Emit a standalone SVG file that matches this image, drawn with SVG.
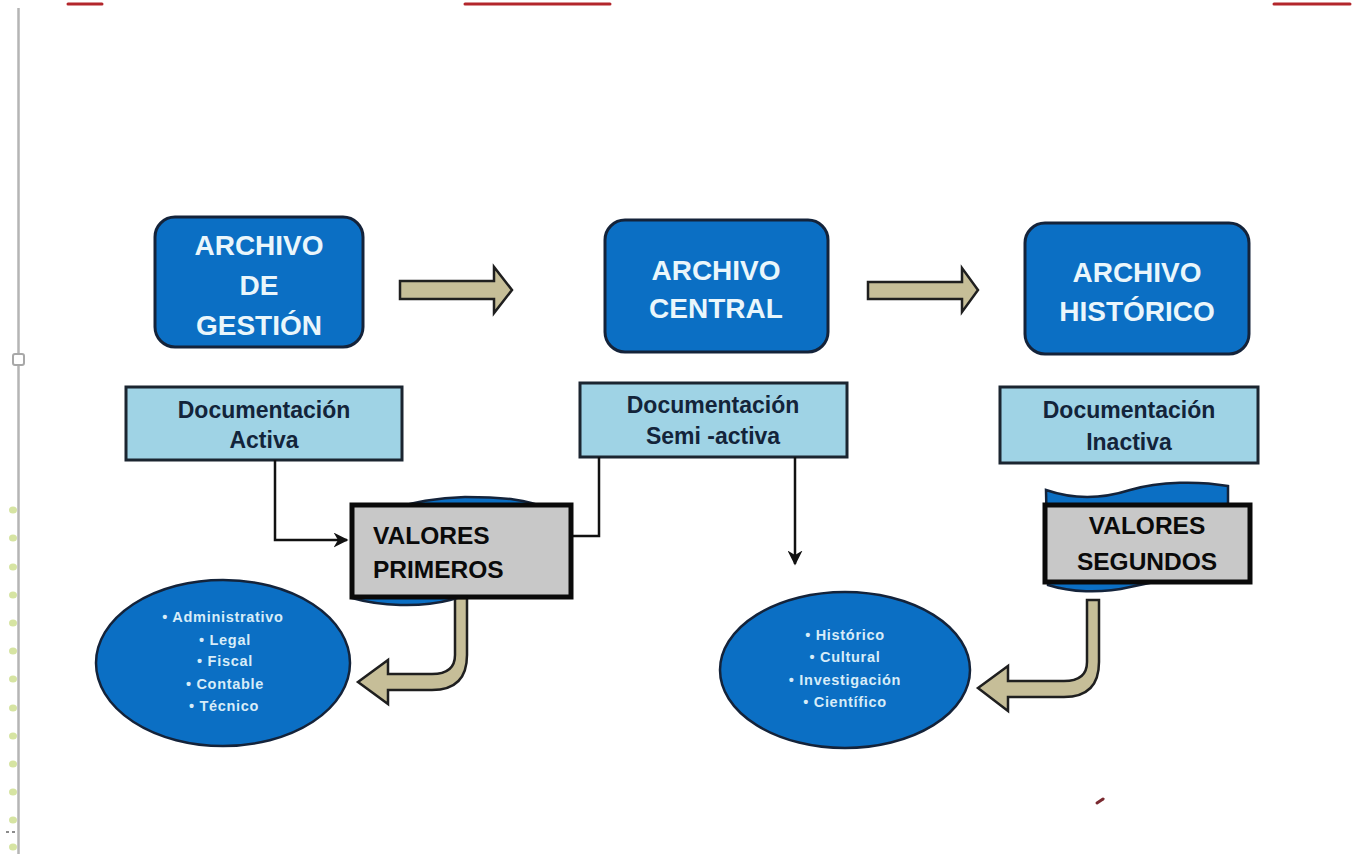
<svg xmlns="http://www.w3.org/2000/svg" width="1361" height="854" viewBox="0 0 1361 854">
<style>
.arch{fill:#0b6fc4;stroke:#14233a;stroke-width:3}
.archt{font-family:"Liberation Sans",Arial,sans-serif;font-weight:bold;font-size:28px;fill:#eaf6fb;text-anchor:middle}
.doc{fill:#9fd3e5;stroke:#1b2530;stroke-width:3}
.doct{font-family:"Liberation Sans",Arial,sans-serif;font-weight:bold;font-size:23px;fill:#13243a;text-anchor:middle}
.val{fill:#c8c8c8;stroke:#0a0a0a;stroke-width:5}
.valt{font-family:"Liberation Sans",Arial,sans-serif;font-weight:bold;font-size:24.5px;fill:#0a0a0a}
.tape{fill:#0b6fc4;stroke:#14233a;stroke-width:2.5}
.bigarrow{fill:#c6be98;stroke:#1f1f1f;stroke-width:2.5;stroke-linejoin:miter}
.ell{fill:#0b6fc4;stroke:#14233a;stroke-width:2.5}
.bt{font-family:"Liberation Sans",Arial,sans-serif;font-weight:bold;font-size:14.5px;fill:#d7ecf8;text-anchor:middle;letter-spacing:0.7px}
.conn{fill:none;stroke:#111;stroke-width:2.5}
</style>
<defs>
<marker id="ah" viewBox="0 0 10 10" refX="9" refY="5" markerWidth="6" markerHeight="6" orient="auto" markerUnits="strokeWidth">
<path d="M0,0 L10,5 L0,10 L3,5 Z" fill="#111"/>
</marker>
</defs>
<rect width="1361" height="854" fill="#ffffff"/>
<!-- page decorations -->
<g id="decor">
<line x1="18.5" y1="8" x2="18.5" y2="854" stroke="#b5b5b5" stroke-width="2.5"/>
<rect x="13" y="354" width="11" height="11" rx="2" fill="#fff" stroke="#a8a8a8" stroke-width="2"/>
<g fill="#d6e4a2">
<ellipse cx="13" cy="510" rx="4" ry="3.5"/><ellipse cx="13" cy="538" rx="4" ry="3.5"/><ellipse cx="13" cy="567" rx="4" ry="3.5"/><ellipse cx="13" cy="595" rx="4" ry="3.5"/><ellipse cx="13" cy="623" rx="4" ry="3.5"/><ellipse cx="13" cy="651" rx="4" ry="3.5"/><ellipse cx="13" cy="679" rx="4" ry="3.5"/><ellipse cx="13" cy="708" rx="4" ry="3.5"/><ellipse cx="13" cy="736" rx="4" ry="3.5"/><ellipse cx="13" cy="764" rx="4" ry="3.5"/><ellipse cx="13" cy="792" rx="4" ry="3.5"/><ellipse cx="13" cy="820" rx="4" ry="3.5"/><ellipse cx="13" cy="847" rx="4" ry="3.5"/>
</g>
<g stroke="#b3262b" stroke-width="3" stroke-linecap="round">
<line x1="68" y1="4" x2="102" y2="4"/>
<line x1="465" y1="4" x2="610" y2="4"/>
<line x1="1274" y1="4" x2="1350" y2="4"/>
</g>
<path d="M1097,803 L1103,799" stroke="#7a2a30" stroke-width="3" stroke-linecap="round"/>
<g stroke="#666" stroke-width="1.5"><line x1="6" y1="832" x2="9" y2="832"/><line x1="12" y1="832" x2="15" y2="832"/></g>
</g>
<!-- top row archive boxes -->
<g id="archivo-gestion">
<rect class="arch" x="155" y="217" width="208" height="130" rx="20"/>
<text class="archt" x="259" y="255">ARCHIVO</text>
<text class="archt" x="259" y="295">DE</text>
<text class="archt" x="259" y="335">GESTIÓN</text>
</g>
<g id="archivo-central">
<rect class="arch" x="605" y="220" width="223" height="132" rx="20"/>
<text class="archt" x="716" y="280">ARCHIVO</text>
<text class="archt" x="716" y="318">CENTRAL</text>
</g>
<g id="archivo-historico">
<rect class="arch" x="1025" y="223" width="224" height="131" rx="20"/>
<text class="archt" x="1137" y="282">ARCHIVO</text>
<text class="archt" x="1137" y="321">HISTÓRICO</text>
</g>
<!-- documentation boxes -->
<g id="doc-activa">
<rect class="doc" x="126" y="387" width="276" height="73"/>
<text class="doct" x="264" y="418">Documentación</text>
<text class="doct" x="264" y="448">Activa</text>
</g>
<g id="doc-semiactiva">
<rect class="doc" x="580" y="383" width="267" height="74"/>
<text class="doct" x="713" y="413">Documentación</text>
<text class="doct" x="713" y="444">Semi -activa</text>
</g>
<g id="doc-inactiva">
<rect class="doc" x="1000" y="387" width="258" height="76"/>
<text class="doct" x="1129" y="418">Documentación</text>
<text class="doct" x="1129" y="450">Inactiva</text>
</g>
<!-- connectors -->
<g id="connectors">
<polygon class="bigarrow" points="400,281 494,281 494,267 512,290 494,313 494,299 400,299"/>
<polygon class="bigarrow" points="868,282 962,282 962,268 978,290 962,312 962,299 868,299"/>
<path class="conn" d="M275,460 L275,540 L347,540" marker-end="url(#ah)"/>
<path class="conn" d="M599,457 L599,536 L573,536"/>
<path class="conn" d="M795,457 L795,564" marker-end="url(#ah)"/>
<path class="bigarrow" d="M455,598 L467,598 L467,655 Q467,690 432,690 L388,690 L388,704 L358,682 L388,660 L388,674 L432,674 Q455,674 455,655 Z"/>
<path class="bigarrow" d="M1087,600 L1099,600 L1099,662 Q1099,697 1064,697 L1008,697 L1008,711 L978,688 L1008,666 L1008,681 L1064,681 Q1087,681 1087,662 Z"/>
</g>
<!-- valores boxes -->
<g id="valores-primeros">
<path class="tape" d="M352,515 C385,515 410,498 465,497 C505,497 528,500 546,508 L546,590 C515,590 480,590 450,600 C420,608 380,606 352,598 Z"/>
<rect class="val" x="352" y="505" width="219" height="92"/>
<text class="valt" x="373" y="544">VALORES</text>
<text class="valt" x="373" y="578">PRIMEROS</text>
</g>
<g id="valores-segundos">
<path class="tape" d="M1046,490 C1075,500 1105,498 1130,490 C1160,481 1200,481 1228,486 L1228,580 C1195,576 1160,580 1130,587 C1100,594 1070,592 1048,585 Z"/>
<rect class="val" x="1045" y="505" width="205" height="77"/>
<text class="valt" x="1147" y="534" text-anchor="middle">VALORES</text>
<text class="valt" x="1147" y="570" text-anchor="middle">SEGUNDOS</text>
</g>
<!-- ellipses -->
<g id="valores-primarios-lista">
<ellipse class="ell" cx="223" cy="663" rx="127" ry="83"/>
<text class="bt" x="223" y="622">•  Administrativo</text>
<text class="bt" x="225" y="645">•  Legal</text>
<text class="bt" x="225" y="666">•  Fiscal</text>
<text class="bt" x="225" y="689">•  Contable</text>
<text class="bt" x="224" y="711">•  Técnico</text>
</g>
<g id="valores-secundarios-lista">
<ellipse class="ell" cx="845" cy="670" rx="125" ry="78"/>
<text class="bt" x="845" y="640">•  Histórico</text>
<text class="bt" x="845" y="662">•  Cultural</text>
<text class="bt" x="845" y="685">•  Investigación</text>
<text class="bt" x="845" y="707">•  Científico</text>
</g>
</svg>
